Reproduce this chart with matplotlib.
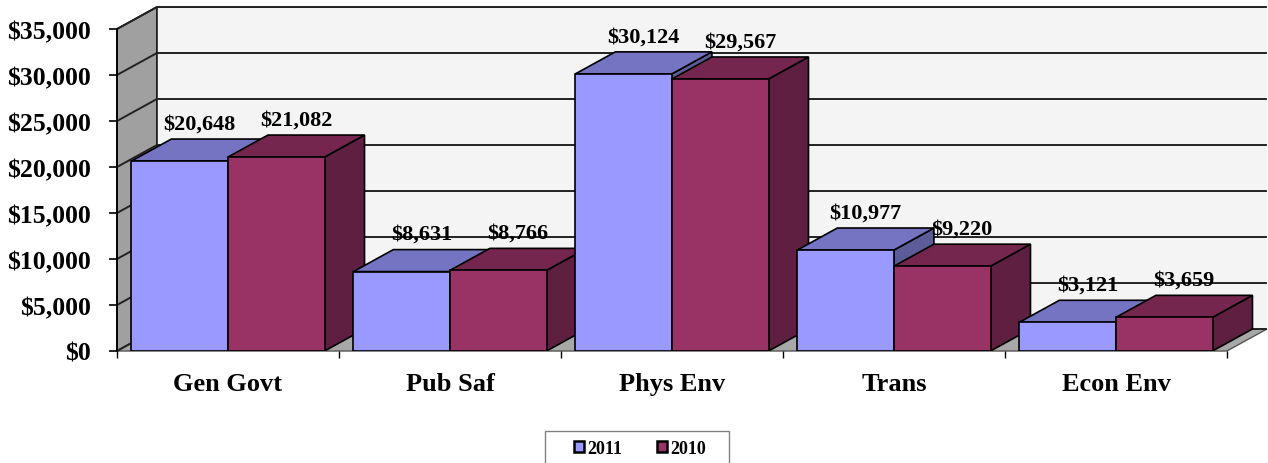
import matplotlib.pyplot as plt
from matplotlib.patches import Polygon, Rectangle

categories = ['Gen Govt', 'Pub Saf', 'Phys Env', 'Trans', 'Econ Env']
series_names = ['2011', '2010']
vals_2011 = [20648, 8631, 30124, 10977, 3121]
vals_2010 = [21082, 8766, 29567, 9220, 3659]
yticks = [0, 5000, 10000, 15000, 20000, 25000, 30000, 35000]

# colours: front, top, side
col_2011 = ('#9999ff', '#7474c2', '#5c5c99')
col_2010 = ('#993366', '#74264e', '#5f1f40')

plt.rcParams['font.family'] = ['Liberation Serif', 'DejaVu Serif']

fig = plt.figure(figsize=(12.68, 4.64), dpi=100)
ax = fig.add_axes([117 / 1268, 1 - 352 / 464, 1 - 117 / 1268, 352 / 464])

ymax = 35000
dx = 0.18       # depth offset in category units
dy = 2390       # depth offset in value units
ax.set_xlim(0, 5 + 0.185)
ax.set_ylim(0, 38260)

# side wall, back wall, floor
ax.add_patch(Polygon([(0, 0), (dx, dy), (dx, ymax + dy), (0, ymax)],
                     facecolor='#a0a0a0', edgecolor='black', lw=1.2, zorder=1, clip_on=False))
ax.add_patch(Polygon([(dx, dy), (5 + dx, dy), (5 + dx, ymax + dy), (dx, ymax + dy)],
                     facecolor='#f4f4f4', edgecolor='none', zorder=1, clip_on=False))
ax.add_patch(Polygon([(0, 0), (5, 0), (5 + dx, dy), (dx, dy)],
                     facecolor='#a8a8a8', edgecolor='#555555', lw=1.0, zorder=1, clip_on=False))
for t in yticks:
    ax.plot([0, dx, 5 + dx], [t, t + dy, t + dy], color='#222222', lw=1.4, zorder=2,
            clip_on=False, solid_capstyle='butt')
ax.plot([dx, dx], [dy, ymax + dy], color='#222222', lw=1.2, zorder=2)


def bar3d(x0, w, h, cols):
    front = Polygon([(x0, 0), (x0 + w, 0), (x0 + w, h), (x0, h)],
                    facecolor=cols[0], edgecolor='black', lw=1.2, zorder=3)
    top = Polygon([(x0, h), (x0 + w, h), (x0 + w + dx, h + dy), (x0 + dx, h + dy)],
                  facecolor=cols[1], edgecolor='black', lw=1.2, zorder=3)
    side = Polygon([(x0 + w, 0), (x0 + w + dx, dy), (x0 + w + dx, h + dy), (x0 + w, h)],
                   facecolor=cols[2], edgecolor='black', lw=1.2, zorder=3)
    for p in (side, top, front):
        ax.add_patch(p)
    ax.annotate('${:,}'.format(h), (x0 + w / 2 + dx / 2, h + dy), xytext=(0, 4),
                textcoords='offset points', ha='center', va='bottom',
                fontsize=16, fontweight='bold', zorder=4)


w = 0.435
for i in range(len(categories)):
    bar3d(i + 0.5 - w, w, vals_2011[i], col_2011)
    bar3d(i + 0.5, w, vals_2010[i], col_2010)

for s in ['top', 'right', 'bottom']:
    ax.spines[s].set_visible(False)
ax.spines['left'].set_bounds(0, ymax)
ax.spines['left'].set_linewidth(1.2)
ax.spines['left'].set_zorder(5)

ax.set_yticks(yticks)
ax.set_yticklabels(['${:,}'.format(t) for t in yticks], fontsize=18.5, fontweight='bold')
ax.tick_params(axis='y', length=6, width=1.2, pad=13)

ax.set_xticks([i + 0.5 for i in range(len(categories))])
ax.set_xticklabels(categories, fontsize=19, fontweight='bold')
ax.set_xticks(range(len(categories) + 1), minor=True)
ax.tick_params(axis='x', which='major', length=0, pad=15)
ax.tick_params(axis='x', which='minor', length=5, width=1)
ax.patch.set_visible(False)

# legend with a wider frame, like the original (bottom runs off the image)
fig.patches.append(Rectangle((545 / 1268, -0.05), 184 / 1268, 0.05 + 32 / 464,
                             transform=fig.transFigure, facecolor='white',
                             edgecolor='#808080', lw=1))
handles = [plt.Rectangle((0, 0), 1, 1, facecolor=col_2011[0], edgecolor='black', lw=1.8),
           plt.Rectangle((0, 0), 1, 1, facecolor=col_2010[0], edgecolor='black', lw=1.8)]
fig.legend(handles, series_names, loc='upper center', ncol=2,
           bbox_to_anchor=(640 / 1268, 1 - 432 / 464),
           prop={'weight': 'bold', 'size': 13}, frameon=False,
           handlelength=0.55, handleheight=0.55, handletextpad=0.2,
           columnspacing=1.9, borderpad=0.5, borderaxespad=0)

fig.savefig('out.png', dpi=100)
